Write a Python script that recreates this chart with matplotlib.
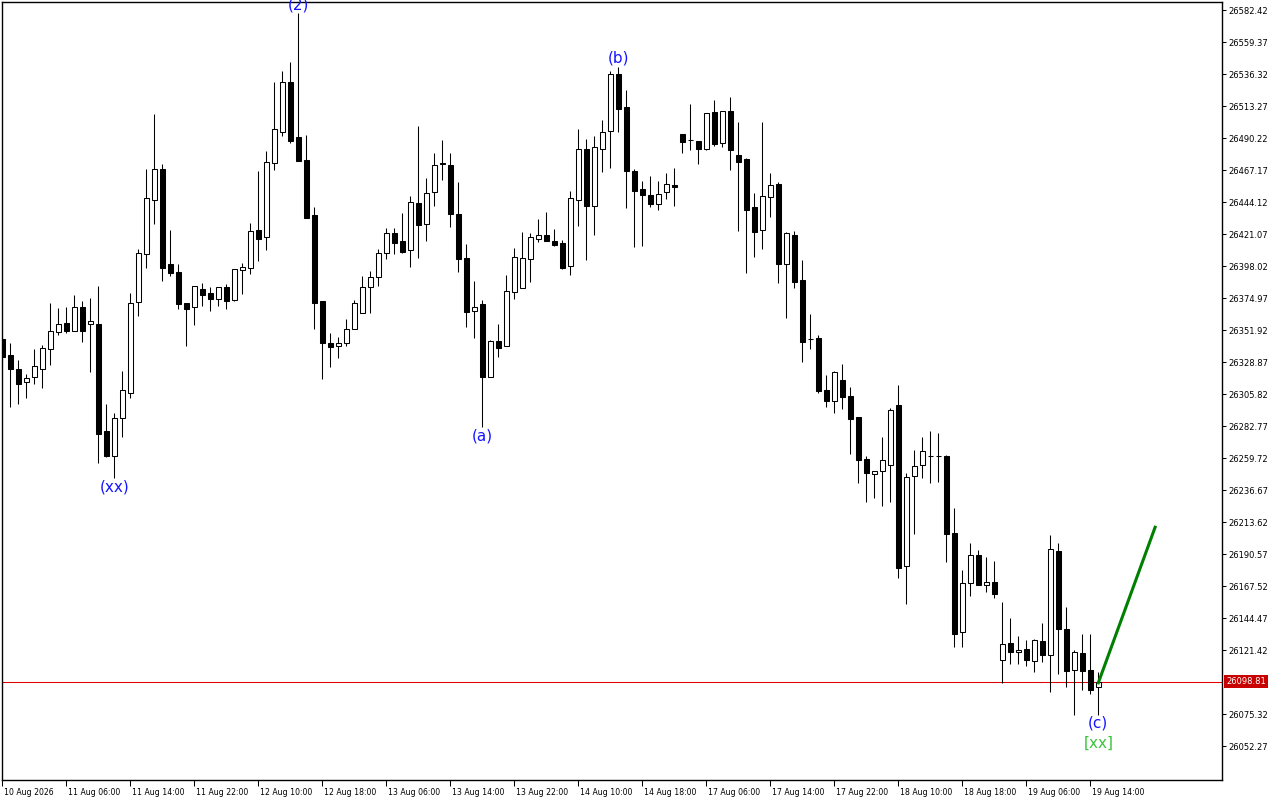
import matplotlib
matplotlib.use('Agg')
import matplotlib.pyplot as plt
from matplotlib.transforms import ScaledTranslation
import numpy as np

# hourly candles, 10 Aug 22:00 .. 19 Aug 15:00 (trading hours only)
opens = [26345.5, 26334.0, 26323.9, 26314.6, 26318.2, 26323.9, 26338.3, 26350.6, 26357.0, 26351.3,
         26368.6, 26356.3, 26356.3, 26279.3, 26261.3, 26288.6, 26306.6, 26372.2, 26406.7, 26445.6,
         26467.9, 26399.5, 26393.8, 26371.4, 26368.6, 26381.5, 26378.6, 26374.3, 26383.0, 26373.6,
         26395.2, 26396.6, 26424.0, 26419.0, 26472.2, 26494.6, 26530.6, 26491.0, 26474.4, 26434.8,
         26372.9, 26342.6, 26340.5, 26342.6, 26352.7, 26364.2, 26383.0, 26390.2, 26407.4, 26421.8,
         26416.1, 26409.6, 26443.4, 26428.3, 26451.4, 26472.2, 26470.8, 26435.5, 26403.8, 26365.7,
         26370.7, 26318.2, 26344.1, 26340.5, 26379.4, 26382.2, 26403.1, 26417.5, 26420.4, 26416.1,
         26414.6, 26398.1, 26445.6, 26482.3, 26441.3, 26482.3, 26495.3, 26536.3, 26512.6, 26466.5,
         26453.5, 26449.2, 26442.7, 26451.4, 26456.4, 26493.1, 26488.8, 26488.1, 26482.3, 26509.0,
         26486.6, 26509.7, 26478.0, 26475.1, 26440.6, 26424.0, 26447.8, 26457.1, 26399.5, 26420.4,
         26388.0, 26345.5, 26346.2, 26308.8, 26300.9, 26316.0, 26304.5, 26289.4, 26259.1, 26248.3,
         26250.5, 26254.8, 26298.0, 26182.1, 26246.9, 26254.8, 26261.6, 26261.6, 26261.3, 26205.8,
         26134.6, 26169.8, 26190.0, 26168.4, 26170.6, 26114.4, 26126.6, 26120.2, 26122.3, 26113.7,
         26128.1, 26118.0, 26192.9, 26136.7, 26107.2, 26119.4, 26107.2, 26094.9]
highs = [26347.7, 26342.6, 26330.4, 26320.4, 26338.3, 26341.2, 26371.4, 26367.8, 26368.6, 26377.2,
         26372.9, 26375.0, 26383.7, 26298.7, 26292.2, 26322.5, 26378.6, 26410.3, 26467.9, 26507.5,
         26471.5, 26424.0, 26399.5, 26371.4, 26383.7, 26385.8, 26383.0, 26383.0, 26385.1, 26395.9,
         26400.2, 26429.0, 26466.5, 26480.9, 26530.6, 26538.5, 26545.0, 26580.2, 26492.4, 26440.6,
         26372.9, 26349.8, 26347.0, 26359.9, 26373.6, 26390.9, 26394.5, 26410.3, 26425.4, 26425.4,
         26436.2, 26448.5, 26498.9, 26461.4, 26479.4, 26488.8, 26479.4, 26458.6, 26413.9, 26387.3,
         26373.6, 26344.8, 26356.3, 26391.6, 26411.0, 26422.6, 26421.8, 26431.9, 26437.0, 26424.7,
         26416.8, 26452.1, 26496.7, 26489.5, 26491.7, 26503.2, 26538.5, 26541.4, 26524.8, 26467.9,
         26459.3, 26462.9, 26459.3, 26465.0, 26468.6, 26493.1, 26514.7, 26488.1, 26508.2, 26517.6,
         26509.7, 26519.8, 26501.8, 26475.8, 26450.6, 26501.8, 26465.0, 26458.6, 26422.6, 26423.3,
         26402.4, 26363.5, 26348.4, 26319.6, 26322.5, 26327.5, 26311.0, 26289.4, 26261.3, 26250.5,
         26274.9, 26295.8, 26312.4, 26249.0, 26265.6, 26274.9, 26279.3, 26277.8, 26262.0, 26223.8,
         26179.2, 26198.6, 26193.6, 26188.6, 26185.7, 26156.2, 26144.6, 26131.7, 26128.8, 26129.5,
         26141.0, 26204.4, 26198.6, 26152.6, 26121.4, 26133.1, 26133.1, 26105.8]
lows = [26329.0, 26296.6, 26298.7, 26303.0, 26313.1, 26310.2, 26326.8, 26348.4, 26349.8, 26351.3,
        26343.4, 26321.8, 26256.2, 26260.6, 26245.4, 26274.9, 26303.0, 26362.1, 26396.6, 26428.3,
        26387.3, 26390.9, 26367.1, 26340.5, 26355.6, 26369.3, 26365.7, 26369.3, 26367.1, 26372.9,
        26377.9, 26392.3, 26401.7, 26409.6, 26467.2, 26491.7, 26486.6, 26473.7, 26432.6, 26352.7,
        26316.7, 26325.4, 26331.8, 26340.5, 26352.7, 26364.2, 26364.2, 26383.7, 26403.1, 26406.7,
        26407.4, 26397.4, 26403.8, 26416.1, 26441.3, 26460.0, 26426.2, 26393.8, 26354.2, 26346.2,
        26282.2, 26318.2, 26332.6, 26340.5, 26374.3, 26382.2, 26386.6, 26415.4, 26416.1, 26412.5,
        26395.9, 26391.6, 26426.9, 26402.4, 26420.4, 26465.8, 26468.6, 26494.6, 26439.8, 26411.8,
        26412.5, 26440.6, 26438.4, 26446.3, 26441.3, 26479.4, 26481.6, 26471.5, 26481.6, 26484.5,
        26483.8, 26467.2, 26423.3, 26393.0, 26404.6, 26410.3, 26433.4, 26385.8, 26360.6, 26382.2,
        26329.0, 26338.3, 26306.6, 26296.6, 26292.2, 26295.1, 26262.7, 26241.8, 26228.2, 26231.0,
        26225.3, 26228.2, 26173.4, 26154.7, 26205.1, 26245.4, 26241.8, 26242.6, 26185.0, 26123.8,
        26123.8, 26160.5, 26168.4, 26163.4, 26159.0, 26097.8, 26111.5, 26111.5, 26110.1, 26105.8,
        26113.0, 26091.4, 26104.3, 26094.9, 26074.8, 26092.8, 26089.9, 26074.8]
closes = [26332.6, 26323.9, 26313.1, 26317.4, 26326.1, 26339.0, 26351.3, 26356.3, 26351.3, 26368.6,
          26351.3, 26358.5, 26277.1, 26261.3, 26288.6, 26308.8, 26371.4, 26407.4, 26447.0, 26467.9,
          26396.6, 26393.0, 26370.7, 26367.1, 26383.7, 26377.2, 26374.3, 26383.0, 26372.9, 26395.9,
          26397.4, 26423.3, 26417.5, 26473.0, 26496.7, 26530.6, 26488.1, 26473.7, 26432.6, 26371.4,
          26342.6, 26339.8, 26342.6, 26352.7, 26371.4, 26383.0, 26390.2, 26407.4, 26421.8, 26414.6,
          26408.2, 26444.2, 26427.6, 26450.6, 26470.8, 26471.5, 26435.5, 26403.1, 26365.0, 26368.6,
          26318.2, 26344.1, 26339.0, 26380.1, 26404.6, 26403.8, 26419.0, 26420.4, 26416.1, 26413.2,
          26396.6, 26447.0, 26482.3, 26441.3, 26483.8, 26494.6, 26536.3, 26511.1, 26466.5, 26452.1,
          26449.2, 26442.7, 26449.9, 26457.1, 26455.0, 26487.4, 26488.8, 26482.3, 26508.2, 26485.9,
          26509.7, 26481.6, 26473.0, 26438.4, 26422.6, 26448.5, 26456.4, 26399.5, 26421.8, 26386.6,
          26343.4, 26345.5, 26308.1, 26300.9, 26321.8, 26303.8, 26287.9, 26258.4, 26249.0, 26250.5,
          26258.4, 26294.4, 26180.6, 26246.2, 26254.1, 26264.9, 26261.6, 26261.3, 26205.1, 26133.1,
          26169.8, 26190.0, 26168.4, 26170.6, 26161.9, 26125.9, 26120.2, 26121.6, 26114.4, 26128.8,
          26118.0, 26194.3, 26136.7, 26106.5, 26120.2, 26106.5, 26092.8, 26098.81]

time_labels = ["10 Aug 2026", "11 Aug 06:00", "11 Aug 14:00", "11 Aug 22:00", "12 Aug 10:00",
               "12 Aug 18:00", "13 Aug 06:00", "13 Aug 14:00", "13 Aug 22:00", "14 Aug 10:00",
               "14 Aug 18:00", "17 Aug 06:00", "17 Aug 14:00", "17 Aug 22:00", "18 Aug 10:00",
               "18 Aug 18:00", "19 Aug 06:00", "19 Aug 14:00"]
label_step = 8

price_ticks = [26582.42, 26559.37, 26536.32, 26513.27, 26490.22, 26467.17, 26444.12, 26421.07,
               26398.02, 26374.97, 26351.92, 26328.87, 26305.82, 26282.77, 26259.72, 26236.67,
               26213.62, 26190.57, 26167.52, 26144.47, 26121.42, 26075.32, 26052.27]
current_price = 26098.81

# wave markup
wave_names = ["(xx)", "(2)", "(a)", "(b)", "(c)", "[xx]"]
wave_bars = [14, 37, 60, 77, 137, 137]
wave_prices = [26239.0, 26586.0, 26275.7, 26547.8, 26069.0, 26054.6]
wave_colors = ["#1515ff", "#1515ff", "#1515ff", "#1515ff", "#1515ff", "#3cc43c"]

# projected move
proj_bars = [137, 144.1]
proj_prices = [26098.0, 26210.0]

fig = plt.figure(figsize=(12.8, 8), dpi=100)
ax = fig.add_axes([2 / 1280, 20 / 800, 1220 / 1280, 778 / 800])

o = np.array(opens)
h = np.array(highs)
l = np.array(lows)
c = np.array(closes)
x = np.arange(len(o))
up = c >= o

ax.vlines(x, l, h, color='black', linewidth=0.75, zorder=2)
bottom = np.minimum(o, c)
height = np.abs(c - o)
ax.bar(x[up], height[up], bottom=bottom[up], width=0.55, facecolor='white',
       edgecolor='black', linewidth=0.75, zorder=3)
ax.bar(x[~up], height[~up], bottom=bottom[~up], width=0.55, facecolor='black',
       edgecolor='black', linewidth=0.75, zorder=3)

ax.axhline(current_price, color='#e00000', linewidth=0.75, zorder=1)
ax.plot(proj_bars, proj_prices, color='#008000', linewidth=2.2, zorder=4)

for name, b, p, col in zip(wave_names, wave_bars, wave_prices, wave_colors):
    ax.text(b, p, name, color=col, fontsize=11, ha='center', va='center', clip_on=False, zorder=5)

ax.set_xlim(-0.04, 152.46)
ax.set_ylim(26028.0, 26588.2)

# price scale on the right
ax.yaxis.tick_right()
ax.set_yticks(price_ticks)
ax.set_yticklabels([f'{v:.2f}' for v in price_ticks], fontsize=6)
ax.tick_params(axis='y', length=3, width=0.75, pad=1.5)

ax.annotate(f'{current_price:.2f}', xy=(1, current_price), xycoords=('axes fraction', 'data'),
            xytext=(3.2, 0), textcoords='offset points', ha='left', va='center',
            color='white', fontsize=6, annotation_clip=False,
            bbox=dict(boxstyle='square,pad=0.25', fc='#c80000', ec='none'))

# time scale
ax.set_xticks(x[::label_step])
ax.set_xticklabels(time_labels, fontsize=5.6, ha='left')
ax.tick_params(axis='x', length=4, width=0.75, pad=1.5)
for lbl in ax.get_xticklabels():
    lbl.set_transform(lbl.get_transform() + ScaledTranslation(2 / 100, 0, fig.dpi_scale_trans))

for s in ax.spines.values():
    s.set_color('black')
    s.set_linewidth(1.0)

fig.savefig('out.png', dpi=100, facecolor='white')
